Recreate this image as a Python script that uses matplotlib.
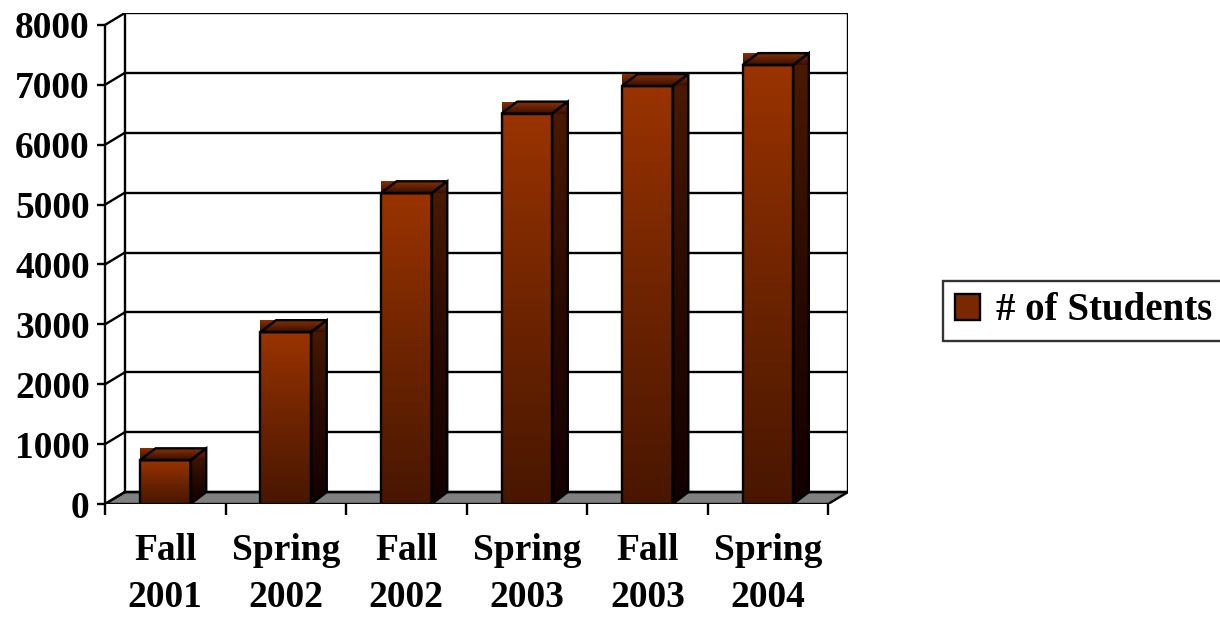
import matplotlib
matplotlib.use('Agg')
import matplotlib.pyplot as plt
import numpy as np
from matplotlib.colors import LinearSegmentedColormap
from matplotlib.patches import Polygon, Patch

# data
terms = ['Fall\n2001', 'Spring\n2002', 'Fall\n2002', 'Spring\n2003', 'Fall\n2003', 'Spring\n2004']
students = [730, 2870, 5190, 6520, 6980, 7330]
y_ticks = list(range(0, 8001, 1000))

# fake 3d offsets (x in category units, y in value units)
WALL_DX, WALL_DY = 0.165, 200
BAR_DX, BAR_DY = 0.13, 200
BAR_W = 0.42
LW = 1.7
FONT = 'Liberation Serif'

front_cmap = LinearSegmentedColormap.from_list('front', ['#481600', '#6e2400', '#9a3300'])
side_cmap = LinearSegmentedColormap.from_list('side', ['#120000', '#2a0a00', '#4c1a00'])
top_cmap = LinearSegmentedColormap.from_list('top', ['#3a0e00', '#5e2000', '#8a3000'])
grad = np.linspace(0, 1, 256).reshape(-1, 1)

fig = plt.figure(figsize=(12.2, 6.18), dpi=100)
ax = fig.add_axes([105 / 1220, (618 - 504) / 618, 743 / 1220, 491 / 618])

n = len(terms)
xmax = n + WALL_DX
ymax = y_ticks[-1] + WALL_DY


def shade(cmap, x0, x1, y0, y1, clip=None, z=3):
    im = ax.imshow(grad, cmap=cmap, origin='lower', extent=[x0, x1, y0, y1],
                   aspect='auto', interpolation='bilinear', zorder=z)
    if clip is not None:
        im.set_clip_path(clip)
    return im


# floor
floor = Polygon([(0, 0), (n, 0), (n + WALL_DX, WALL_DY), (WALL_DX, WALL_DY)],
                closed=True, facecolor='#808080', edgecolor='black', lw=LW, zorder=1)
ax.add_patch(floor)

# back wall gridlines, side wall diagonals
for v in y_ticks:
    ax.plot([WALL_DX, n + WALL_DX], [v + WALL_DY, v + WALL_DY], color='black', lw=LW, zorder=1)
    ax.plot([0, WALL_DX], [v, v + WALL_DY], color='black', lw=LW, zorder=1)
ax.plot([WALL_DX, WALL_DX], [WALL_DY, ymax], color='black', lw=LW, zorder=1)
ax.plot([n + WALL_DX, n + WALL_DX], [WALL_DY, ymax], color='black', lw=LW, zorder=1)

# bars
for i, val in enumerate(students):
    x0 = i + 0.5 - BAR_W / 2
    x1 = x0 + BAR_W

    side = Polygon([(x1, 0), (x1 + BAR_DX, BAR_DY), (x1 + BAR_DX, val + BAR_DY), (x1, val)],
                   closed=True, facecolor='none', edgecolor='black', lw=LW, zorder=4)
    ax.add_patch(side)
    shade(side_cmap, x1, x1 + BAR_DX, 0, val + BAR_DY, clip=side)

    front = Polygon([(x0, 0), (x1, 0), (x1, val), (x0, val)],
                    closed=True, facecolor='none', edgecolor='black', lw=LW, zorder=4)
    ax.add_patch(front)
    shade(front_cmap, x0, x1, 0, val)

    # top face (box fill like the original export)
    shade(top_cmap, x0, x1 + BAR_DX, val, val + BAR_DY)
    top = Polygon([(x0, val), (x1, val), (x1 + BAR_DX, val + BAR_DY), (x0 + BAR_DX, val + BAR_DY)],
                  closed=True, facecolor='none', edgecolor='black', lw=LW, zorder=4)
    ax.add_patch(top)

ax.set_xlim(0, xmax)
ax.set_ylim(0, ymax)

for s in ['top', 'right', 'bottom']:
    ax.spines[s].set_visible(False)
ax.spines['left'].set_bounds(0, y_ticks[-1])
ax.spines['left'].set_linewidth(LW)

ax.set_yticks(y_ticks)
ax.set_yticklabels([str(v) for v in y_ticks], fontfamily=FONT, fontweight='bold', fontsize=27)
ax.tick_params(axis='y', length=6, width=LW, pad=5)

ax.set_xticks(range(n + 1))
ax.set_xticklabels([''] * (n + 1))
ax.set_xticks(np.arange(n) + 0.5, minor=True)
ax.set_xticklabels(terms, minor=True, fontfamily=FONT, fontweight='bold', fontsize=27,
                   linespacing=1.42)
ax.tick_params(axis='x', which='major', length=8, width=LW)
ax.tick_params(axis='x', which='minor', length=0, pad=21)

leg = fig.legend(handles=[Patch(facecolor='#7a2800', edgecolor='black', lw=LW)],
                 labels=['# of Students'], loc='center left',
                 bbox_to_anchor=(943 / 1220, 1 - 311 / 618),
                 prop={'family': FONT, 'weight': 'bold', 'size': 28},
                 fancybox=False, handlelength=0.65, handleheight=0.65,
                 handletextpad=0.4, borderpad=0.3, borderaxespad=0)
leg.get_frame().set_edgecolor('black')
leg.get_frame().set_linewidth(LW)

fig.savefig('out.png', dpi=100)
